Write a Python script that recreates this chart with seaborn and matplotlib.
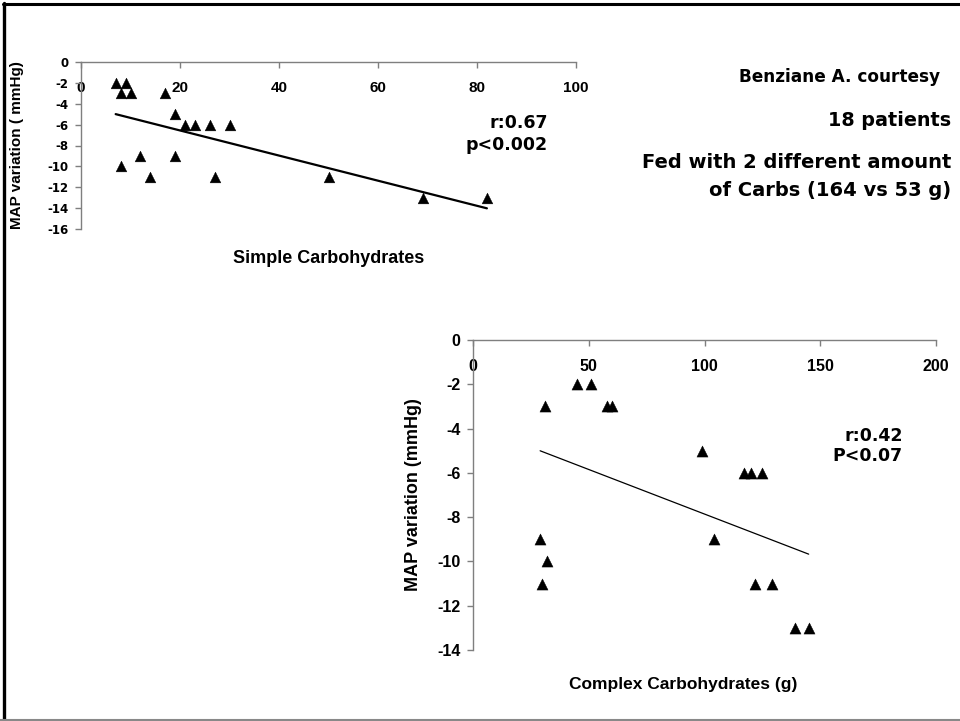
import matplotlib
matplotlib.use("Agg")
import matplotlib.pyplot as plt
import seaborn as sns
import pandas as pd
from matplotlib.lines import Line2D

# ---- data ----
simple_x = [7, 9, 8, 10, 17, 19, 21, 23, 26, 30, 8, 12, 14, 19, 27, 50, 69, 82]
simple_y = [-2, -2, -3, -3, -3, -5, -6, -6, -6, -6, -10, -9, -11, -9, -11, -11, -13, -13]
complex_x = [31, 45, 51, 58, 60, 29, 32, 30, 99, 117, 120, 125, 104, 122, 129, 139, 145]
complex_y = [-3, -2, -2, -3, -3, -9, -10, -11, -5, -6, -6, -6, -9, -11, -11, -13, -13]
top_xticks = [0, 20, 40, 60, 80, 100]
top_yticks = [0, -2, -4, -6, -8, -10, -12, -14, -16]
bot_xticks = [0, 50, 100, 150, 200]
bot_yticks = [0, -2, -4, -6, -8, -10, -12, -14]

sns.set_style("white")
plt.rcParams['font.family'] = ['Liberation Sans', 'DejaVu Sans']
for k in ['text.color', 'axes.labelcolor', 'xtick.labelcolor', 'ytick.labelcolor']:
    plt.rcParams[k] = 'black'

W, H = 960, 721
fig = plt.figure(figsize=(W / 100, H / 100), dpi=100)
fig.patch.set_facecolor('white')

def px_axes(x0, x1, y_top, y_bot):
    return fig.add_axes([x0 / W, 1 - y_bot / H, (x1 - x0) / W, (y_bot - y_top) / H])

SPINE = '#7f7f7f'

def style_axes(ax, xlim, ylim, xticks, yticks, xfont, yfont, xpad, ypad):
    for s in ['top', 'right']:
        ax.spines[s].set_visible(False)
    ax.spines['bottom'].set_position(('data', 0))
    for s in ['bottom', 'left']:
        ax.spines[s].set_color(SPINE)
        ax.spines[s].set_linewidth(1.0)
    ax.set_xlim(*xlim)
    ax.set_ylim(*ylim)
    ax.set_xticks(xticks)
    ax.set_yticks(yticks)
    ax.tick_params(axis='x', direction='out', length=4, width=1, color=SPINE, pad=xpad, bottom=True)
    ax.tick_params(axis='y', direction='out', length=4, width=1, color=SPINE, pad=ypad, left=True)
    ax.set_xticklabels([str(t) for t in xticks], fontweight='bold', color='black', **xfont)
    ax.set_yticklabels([str(t) for t in yticks], fontweight='bold', color='black', **yfont)
    ax.set_facecolor('none')
    ax.grid(False)

# ---- top chart ----
df1 = pd.DataFrame({'x': simple_x, 'y': simple_y})
ax1 = px_axes(81, 576, 62, 229)
sns.scatterplot(data=df1, x='x', y='y', marker='^', color='black', s=60,
                edgecolor='black', linewidth=0.3, ax=ax1, zorder=3)
sns.regplot(data=df1, x='x', y='y', scatter=False, ci=None, color='black',
            line_kws={'linewidth': 1.6}, ax=ax1)
style_axes(ax1, (0, 100), (-16, 0), top_xticks, top_yticks,
           {'fontsize': 11}, {'fontsize': 8.5, 'family': 'DejaVu Sans'}, 10, 5)
ax1.set_xlabel('Simple Carbohydrates', fontweight='bold', fontsize=13, color='black')
ax1.xaxis.set_label_coords(0.5, (229 - 258) / 167)
ax1.xaxis.label.set_va('center')
ax1.set_ylabel('MAP variation ( mmHg)', fontweight='bold', fontsize=11, color='black')
ax1.yaxis.set_label_coords((17 - 81) / 495, 0.5)
ax1.yaxis.label.set_va('center')

# ---- bottom chart ----
df2 = pd.DataFrame({'x': complex_x, 'y': complex_y})
ax2 = px_axes(473, 936, 340, 650)
sns.scatterplot(data=df2, x='x', y='y', marker='^', color='black', s=64,
                edgecolor='black', linewidth=0.3, ax=ax2, zorder=3)
sns.regplot(data=df2, x='x', y='y', scatter=False, ci=None, color='black',
            line_kws={'linewidth': 0.9}, ax=ax2)
style_axes(ax2, (0, 200), (-14, 0), bot_xticks, bot_yticks,
           {'fontsize': 11.5}, {'fontsize': 11.5}, 10, 5)
ax2.set_xlabel('Complex Carbohydrates (g)', fontweight='bold', fontsize=12.5, color='black')
ax2.xaxis.set_label_coords((683 - 473) / 463, (650 - 685) / 310)
ax2.xaxis.label.set_va('center')
ax2.set_ylabel('MAP variation (mmHg)', fontweight='bold', fontsize=13, color='black')
ax2.yaxis.set_label_coords((414 - 473) / 463, 0.5)
ax2.yaxis.label.set_va('center')

# ---- annotations ----
def ftext(x, y, s, **kw):
    fig.text(x / W, 1 - y / H, s, color='black', **kw)

RF = dict(ha='right', va='center', fontweight='bold', family='DejaVu Sans')
ftext(940, 77, 'Benziane A. courtesy', fontsize=12.2, **RF)
ftext(951, 121, '18 patients', fontsize=13.8, **RF)
ftext(951, 163, 'Fed with 2 different amount', fontsize=14, **RF)
ftext(951, 190, 'of Carbs (164 vs 53 g)', fontsize=14, **RF)

ftext(548, 123, 'r:0.67', fontsize=12.5, **RF)
ftext(548, 145, 'p<0.002', fontsize=12.5, **RF)
ftext(903, 436, 'r:0.42', fontsize=12.5, **RF)
ftext(903, 456, 'P<0.07', fontsize=12.5, **RF)

# ---- frame ----
fig.add_artist(Line2D([3 / W, 1], [1 - 4 / H, 1 - 4 / H], color='black', linewidth=2.2, transform=fig.transFigure))
fig.add_artist(Line2D([4 / W, 4 / W], [1 - 3 / H, 0], color='black', linewidth=2.4, transform=fig.transFigure))
fig.add_artist(Line2D([0, 1], [1 - 720 / H, 1 - 720 / H], color='#888888', linewidth=1.5, transform=fig.transFigure))

fig.savefig('out.png', dpi=100)
